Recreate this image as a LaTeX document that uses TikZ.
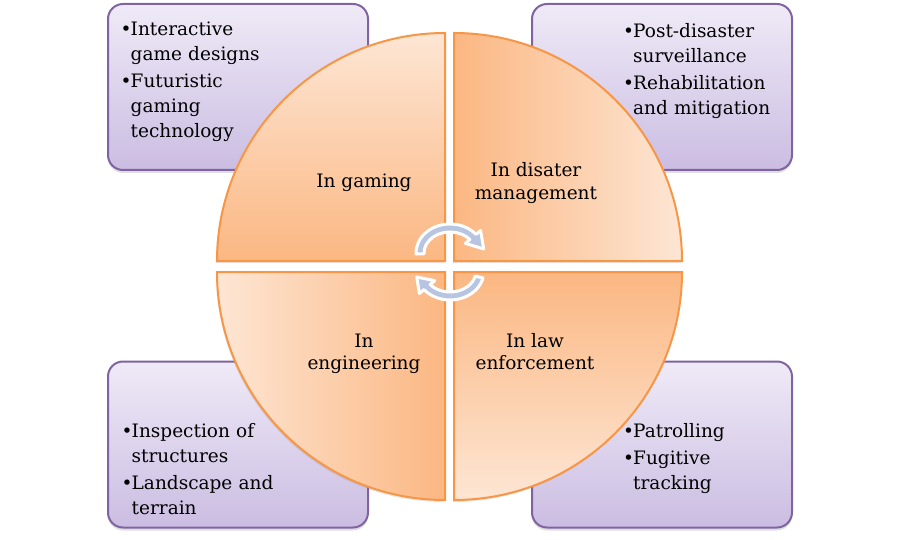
\documentclass[tikz,border=0pt]{standalone}
\usepackage{fontspec}
\setmainfont{DejaVu Serif}
\usetikzlibrary{calc, shadows}

\definecolor{boxline}{HTML}{8064A2}
\definecolor{boxtop}{HTML}{EFEAF7}
\definecolor{boxbottom}{HTML}{CBBDE2}
\definecolor{quadline}{HTML}{F79646}
\definecolor{quaddark}{HTML}{FBB782}
\definecolor{quadlight}{HTML}{FDE6D4}
\definecolor{cyclefill}{HTML}{B7C5E3}

\newcommand{\bulletline}[1]{\par\hangindent=10pt\hangafter=1\noindent\strut\makebox[10pt][l]{\textbullet}#1\par}

\begin{document}
\begin{tikzpicture}[x=1pt, y=1pt,
        infobox/.style={rectangle, draw=boxline, line width=2pt, rounded corners=15pt, minimum width=260pt, minimum height=166pt, top color=boxtop, bottom color=boxbottom, drop shadow={shadow xshift=0pt, shadow yshift=-3pt, opacity=0.25}},
        quadrant/.style={draw=quadline, line width=2pt, drop shadow={shadow xshift=-1pt, shadow yshift=-2pt, opacity=0.2}},
        listtext/.style={font=\fontsize{18.5}{25}\selectfont, text width=175pt, align=left, inner sep=0pt, anchor=north west},
        quadtext/.style={font=\fontsize{18.5}{22.5}\selectfont, align=center, inner sep=0pt, anchor=north},
        cyclearrow/.style={fill=cyclefill, draw=white, line width=3pt, line join=round}
    ]
    \useasboundingbox (0,0) rectangle (899,539);

    % --- Corner boxes ---
    \node[infobox] (gamebox) at (238,452) {};
    \node[infobox] (disasterbox) at (662,452) {};
    \node[infobox] (engbox) at (238,94.5) {};
    \node[infobox] (lawbox) at (662,94.5) {};

    \node[listtext] (gamelist) at (120.5,528.5) {\bulletline{Interactive\newline game designs}\vspace{2pt}\bulletline{Futuristic\newline gaming\newline technology}};
    \node[listtext] (disasterlist) at (623,526.5) {\bulletline{Post-disaster\newline surveillance}\vspace{2pt}\bulletline{Rehabilitation\newline and mitigation}};
    \node[listtext] (englist) at (121.5,126.5) {\bulletline{Inspection of\newline structures}\vspace{2pt}\bulletline{Landscape and\newline terrain}};
    \node[listtext] (lawlist) at (623,126.5) {\bulletline{Patrolling}\vspace{2pt}\bulletline{Fugitive\newline tracking}};

    % --- Circle quadrants ---
    \coordinate (tlc) at (445,278);
    \coordinate (trc) at (454,278);
    \coordinate (blc) at (445,267);
    \coordinate (brc) at (454,267);

    \path[quadrant, top color=quadlight, bottom color=quaddark] (tlc) -- ++(-228,0) arc[start angle=180, end angle=90, radius=228pt] -- cycle;
    \path[quadrant, left color=quaddark, right color=quadlight] (trc) -- ++(0,228) arc[start angle=90, end angle=0, radius=228pt] -- cycle;
    \path[quadrant, left color=quadlight, right color=quaddark] (blc) -- ++(-228,0) arc[start angle=180, end angle=270, radius=228pt] -- cycle;
    \path[quadrant, top color=quaddark, bottom color=quadlight] (brc) -- ++(228,0) arc[start angle=0, end angle=-90, radius=228pt] -- cycle;

    \node[quadtext] (gaming) at (364,367.75) {\strut In gaming};
    \node[quadtext] (disaster) at (536,378) {\strut In disater\\management};
    \node[quadtext] (engineering) at (364,207.75) {\strut In\\engineering};
    \node[quadtext] (law) at (535,207.75) {\strut In law\\enforcement};

    % --- Cycle arrows in the middle ---
    \coordinate (topc) at (450,286);
    \coordinate (botc) at (450,268);

    \path[cyclearrow] ($(topc)+(182:34pt and 29pt)$) arc[start angle=182, end angle=40, x radius=34pt, y radius=29pt]
        -- ($(topc)+(40:40pt and 35pt)$) -- ($(topc)+(8:34pt and 29pt)$) -- ($(topc)+(40:20pt and 15pt)$)
        -- ($(topc)+(40:26pt and 21pt)$) arc[start angle=40, end angle=182, x radius=26pt, y radius=21pt] -- cycle;
    \path[cyclearrow] ($(botc)+(-14:34pt and 29pt)$) arc[start angle=-14, end angle=-140, x radius=34pt, y radius=29pt]
        -- ($(botc)+(-140:40pt and 35pt)$) -- ($(botc)+(-168:34pt and 29pt)$) -- ($(botc)+(-140:20pt and 15pt)$)
        -- ($(botc)+(-140:26pt and 21pt)$) arc[start angle=-140, end angle=-14, x radius=26pt, y radius=21pt] -- cycle;

\end{tikzpicture}
\end{document}
